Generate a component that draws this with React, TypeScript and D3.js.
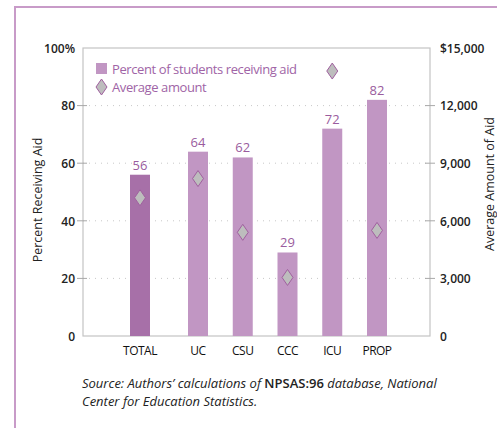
import * as d3 from 'd3';
import React, { useEffect, useRef } from 'react';

const categories = ['TOTAL', 'UC', 'CSU', 'CCC', 'ICU', 'PROP'];
const percentReceiving = [56, 64, 62, 29, 72, 82];
const averageAmount = [7200, 8200, 5400, 3050, 13800, 5500];
const leftTicks = [0, 20, 40, 60, 80, 100];
const rightTicks = [0, 3000, 6000, 9000, 12000, 15000];

const W = 497, H = 428;
const FONT = "'Open Sans', 'Noto Sans', sans-serif";

function App() {
  const ref = useRef<SVGSVGElement>(null);

  useEffect(() => {
    const svg = d3.select(ref.current);
    svg.selectAll('*').remove();

    const left = 83, right = 430, top = 48, bottom = 336;

    const y = d3.scaleLinear().domain([0, 100]).range([bottom, top]);
    const y2 = d3.scaleLinear().domain([0, 15000]).range([bottom, top]);
    // sectors evenly spaced, TOTAL set apart a bit
    const xs = d3.scalePoint().domain(categories.slice(1)).range([198, 377]);
    const xPos = (c: string) => (c === 'TOTAL' ? (xs('UC') as number) - 58 : (xs(c) as number));
    const barW = 20;

    // outer frame
    svg.append('path')
      .attr('d', `M${W},7 L15,7 L15,${H}`)
      .attr('fill', 'none')
      .attr('stroke', '#c89bc8')
      .attr('stroke-width', 2);

    // gridlines
    svg.append('g').selectAll('line')
      .data(leftTicks.filter(d => d > 0 && d < 100))
      .enter().append('line')
      .attr('x1', left).attr('x2', right)
      .attr('y1', d => y(d)).attr('y2', d => y(d))
      .attr('stroke', '#c8c8c8')
      .attr('stroke-dasharray', '1,5');

    // plot box
    svg.append('rect')
      .attr('x', left).attr('y', top)
      .attr('width', right - left).attr('height', bottom - top)
      .attr('fill', 'none')
      .attr('stroke', '#c4c4c4')
      .attr('stroke-width', 1.2);

    // left axis
    const yAxis = d3.axisLeft(y).tickValues(leftTicks).tickSize(0)
      .tickFormat(d => (d === 100 ? '100%' : String(d)));
    const ga = svg.append('g').attr('transform', `translate(${left - 5},0)`).call(yAxis);
    ga.select('.domain').remove();
    ga.selectAll('text').attr('font-family', FONT).attr('font-size', 12).attr('font-weight', 600)
      .attr('fill', '#222').attr('dy', '0.35em');
    svg.append('g').selectAll('line')
      .data(leftTicks.filter(d => d > 0 && d < 100))
      .enter().append('line')
      .attr('x1', left - 6).attr('x2', left + 4)
      .attr('y1', d => y(d)).attr('y2', d => y(d))
      .attr('stroke', '#a8a8a8');

    // right axis
    const y2Axis = d3.axisRight(y2).tickValues(rightTicks).tickSize(0)
      .tickFormat(d => (d === 15000 ? '$15,000' : d3.format(',')(d as number)));
    const gb = svg.append('g').attr('transform', `translate(${right + 7},0)`).call(y2Axis);
    gb.select('.domain').remove();
    gb.selectAll('text').attr('font-family', FONT).attr('font-size', 12).attr('font-weight', 600)
      .attr('fill', '#222').attr('dy', '0.35em');
    svg.append('g').selectAll('line')
      .data(rightTicks.filter(d => d > 0 && d < 15000))
      .enter().append('line')
      .attr('x1', right - 5).attr('x2', right + 5)
      .attr('y1', d => y2(d)).attr('y2', d => y2(d))
      .attr('stroke', '#a8a8a8');

    // bars
    svg.append('g').selectAll('rect')
      .data(categories)
      .enter().append('rect')
      .attr('x', d => xPos(d) - barW / 2)
      .attr('y', (d, i) => y(percentReceiving[i]))
      .attr('width', barW)
      .attr('height', (d, i) => bottom - y(percentReceiving[i]))
      .attr('fill', (d, i) => (i === 0 ? '#a770a8' : '#c196c3'));

    // value labels
    svg.append('g').selectAll('text')
      .data(categories)
      .enter().append('text')
      .attr('x', d => xPos(d))
      .attr('y', (d, i) => y(percentReceiving[i]) - 5)
      .attr('text-anchor', 'middle')
      .attr('font-family', FONT)
      .attr('font-size', 13)
      .attr('fill', '#9a5c9e')
      .text((d, i) => percentReceiving[i]);

    // diamonds
    const diamond = (cx: number, cy: number) =>
      d3.line()([[cx, cy - 8], [cx + 5.5, cy], [cx, cy + 8], [cx - 5.5, cy], [cx, cy - 8]]);
    svg.append('g').selectAll('path')
      .data(categories)
      .enter().append('path')
      .attr('d', (d, i) => diamond(xPos(d), y2(averageAmount[i])))
      .attr('fill', '#bdbdbd')
      .attr('stroke', '#a0609f')
      .attr('stroke-width', 1);

    // category labels
    svg.append('g').selectAll('text')
      .data(categories)
      .enter().append('text')
      .attr('x', d => xPos(d))
      .attr('y', 355)
      .attr('text-anchor', 'middle')
      .attr('font-family', FONT)
      .attr('font-size', 12)
      .attr('letter-spacing', -0.5)
      .attr('fill', '#111')
      .text(d => d);

    // legend
    svg.append('rect')
      .attr('x', 96).attr('y', 63).attr('width', 11).attr('height', 11)
      .attr('fill', '#c196c3');
    svg.append('text')
      .attr('x', 112).attr('y', 74)
      .attr('font-family', FONT).attr('font-size', 13).attr('letter-spacing', -0.4).attr('fill', '#a064a6')
      .text('Percent of students receiving aid');
    svg.append('path')
      .attr('d', diamond(101.5, 87))
      .attr('fill', '#bdbdbd').attr('stroke', '#a0609f');
    svg.append('text')
      .attr('x', 112).attr('y', 92)
      .attr('font-family', FONT).attr('font-size', 13).attr('letter-spacing', -0.4).attr('fill', '#a064a6')
      .text('Average amount');

    // axis titles
    svg.append('text')
      .attr('transform', `translate(42,${(top + bottom) / 2 + 8}) rotate(-90)`)
      .attr('text-anchor', 'middle')
      .attr('font-family', FONT).attr('font-size', 12.5).attr('fill', '#222')
      .text('Percent Receiving Aid');
    svg.append('text')
      .attr('transform', `translate(494,${(top + bottom) / 2 - 8}) rotate(-90)`)
      .attr('text-anchor', 'middle')
      .attr('font-family', FONT).attr('font-size', 12.5).attr('fill', '#222')
      .text('Average Amount of Aid');

    // source note
    const src = svg.append('text')
      .attr('x', 82).attr('y', 388)
      .attr('font-family', FONT).attr('font-size', 13).attr('font-style', 'italic').attr('fill', '#222');
    src.append('tspan').text('Source:  Authors\u2019 calculations of ');
    src.append('tspan').attr('font-style', 'normal').attr('font-weight', 600).text('NPSAS:96');
    src.append('tspan').text(' database, National');
    svg.append('text')
      .attr('x', 82).attr('y', 406)
      .attr('font-family', FONT).attr('font-size', 13).attr('font-style', 'italic').attr('fill', '#222')
      .text('Center for Education Statistics.');
  }, []);

  return (
    <svg ref={ref} width={W} height={H}
      style={{ position: 'absolute', left: 0, top: 0, background: '#fff' }} />
  );
}

export default App;
